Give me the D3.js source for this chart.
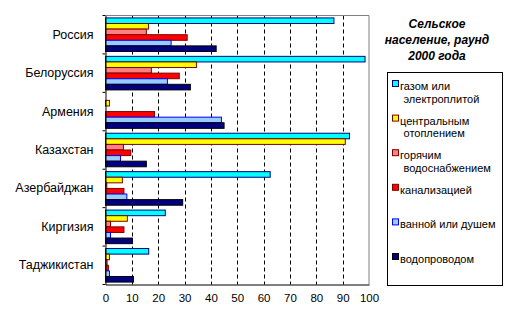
<!DOCTYPE html>
<html>
<head>
<meta charset="utf-8">
<script src="https://cdn.jsdelivr.net/npm/d3@7"></script>
<style>
  body { margin: 0; background: #fff; }
  text { font-family: "Liberation Sans", Arial, sans-serif; }
</style>
</head>
<body>
<svg id="chart" width="516" height="327"></svg>
<script>
var countries = ["Россия", "Белоруссия", "Армения", "Казахстан", "Азербайджан", "Киргизия", "Таджикистан"];
var seriesNames = [["газом или", "электроплитой"], ["центральным", "отоплением"], ["горячим", "водоснабжением"], ["канализацией"], ["ванной или душем"], ["водопроводом"]];
var fills = ["#00ffff", "#ffff00", "#ff8080", "#ff0000", "#99ccff", "#000080"];
var strokes = ["#000080", "#800000", "#800000", "#800000", "#0000ff", "#000000"];

// one array per series, same order as countries
var gas     = [86.7, 98.5, 0,    92.6, 62.5, 22.7, 16.4];
var heating = [16.3, 34.5, 1.5,  91.0, 6.4,  8.3,  1.5];
var hotWater= [15.5, 17.4, 0,    6.8,  0.5,  1.9,  0.6];
var sewer   = [31.0, 28.0, 18.6, 9.6,  7.0,  7.0,  1.1];
var bath    = [24.9, 23.5, 44.0, 5.7,  8.1,  1.9,  1.5];
var water   = [42.0, 32.2, 45.0, 15.5, 29.3, 10.2, 10.6];
var allSeries = [gas, heating, hotWater, sewer, bath, water];
var xTicks = [0, 10, 20, 30, 40, 50, 60, 70, 80, 90, 100];
var titleLines = ["Сельское", "население, раунд", "2000 года"];

var svg = d3.select("#chart");
var pLeft = 105.5, pRight = 369, pTop = 15.5, pBottom = 284.5;

var x = d3.scaleLinear().domain([0, 100]).range([pLeft, pRight]);
var y = d3.scaleBand().domain(countries).range([pTop, pBottom])
    .paddingInner(0.127).paddingOuter(0.063);
var ySub = d3.scaleBand().domain(d3.range(6)).range([0, y.bandwidth()]);

// gridlines
svg.append("g").selectAll("line")
    .data(xTicks.filter(function(d){ return d > 0 && d < 100; }))
    .enter().append("line")
    .attr("x1", function(d){ return Math.round(x(d)) + 0.5; })
    .attr("x2", function(d){ return Math.round(x(d)) + 0.5; })
    .attr("y1", pTop).attr("y2", pBottom)
    .attr("stroke", "#000").attr("stroke-dasharray", "4,3");

// frame top/right gray
svg.append("path")
    .attr("d", "M" + pLeft + "," + pTop + "H" + pRight + "V" + pBottom)
    .attr("fill", "none").attr("stroke", "#808080");

// bars
var groups = svg.append("g").selectAll("g")
    .data(countries).enter().append("g")
    .attr("transform", function(d){ return "translate(0," + y(d) + ")"; });

groups.selectAll("rect")
    .data(function(c, ci){
        return allSeries.map(function(s, si){ return {s: si, v: s[ci]}; })
            .filter(function(d){ return d.v > 0; });
    })
    .enter().append("rect")
    .attr("x", x(0))
    .attr("y", function(d){ return ySub(d.s); })
    .attr("width", function(d){ return x(d.v) - x(0); })
    .attr("height", ySub.bandwidth())
    .attr("fill", function(d){ return fills[d.s]; })
    .attr("stroke", function(d){ return strokes[d.s]; })
    .attr("stroke-width", 1);

// axes
var xAxis = d3.axisBottom(x).tickValues(xTicks).tickSize(0).tickPadding(9);
svg.append("g").attr("transform", "translate(0," + pBottom + ")").call(xAxis)
    .call(function(g){
        g.select(".domain").attr("stroke", "#000");
        g.selectAll("text").attr("font-size", 11.5).attr("fill", "#000")
            .attr("font-family", "Liberation Sans, Arial, sans-serif");
    });

var yAxis = d3.axisLeft(y).tickSize(0).tickPadding(12);
svg.append("g").attr("transform", "translate(" + pLeft + ",0)").call(yAxis)
    .call(function(g){
        g.select(".domain").attr("stroke", "#000");
        g.selectAll("text").attr("font-size", 12.5).attr("fill", "#000")
            .attr("font-family", "Liberation Sans, Arial, sans-serif");
    });

// category boundary ticks
svg.append("g").selectAll("line")
    .data(d3.range(countries.length + 1))
    .enter().append("line")
    .attr("x1", pLeft - 3).attr("x2", pLeft)
    .attr("y1", function(i){ return pTop + i * (pBottom - pTop) / countries.length; })
    .attr("y2", function(i){ return pTop + i * (pBottom - pTop) / countries.length; })
    .attr("stroke", "#000");

// title
svg.append("g").selectAll("text")
    .data(titleLines).enter().append("text")
    .attr("x", 437).attr("y", function(d, i){ return 28 + i * 16; })
    .attr("text-anchor", "middle")
    .attr("font-size", 12).attr("font-weight", "bold").attr("font-style", "italic")
    .text(function(d){ return d; });

// legend
svg.append("rect")
    .attr("x", 387.5).attr("y", 72.5).attr("width", 115).attr("height", 213)
    .attr("fill", "#fff").attr("stroke", "#000");

var items = svg.append("g").selectAll("g")
    .data(seriesNames).enter().append("g")
    .attr("transform", function(d, i){ return "translate(0," + (86 + i * 34.6) + ")"; });

items.append("rect")
    .attr("x", 392.5).attr("y", -5.5).attr("width", 6).attr("height", 6)
    .attr("fill", function(d, i){ return fills[i]; })
    .attr("stroke", function(d, i){ return strokes[i]; });

items.selectAll("text")
    .data(function(d){ return d; }).enter().append("text")
    .attr("x", function(d, j){ return j === 0 ? 400 : 403.5; })
    .attr("y", function(d, j){ return 4 + j * 12.5; })
    .attr("font-size", 11)
    .text(function(d){ return d; });
</script>
</body>
</html>
